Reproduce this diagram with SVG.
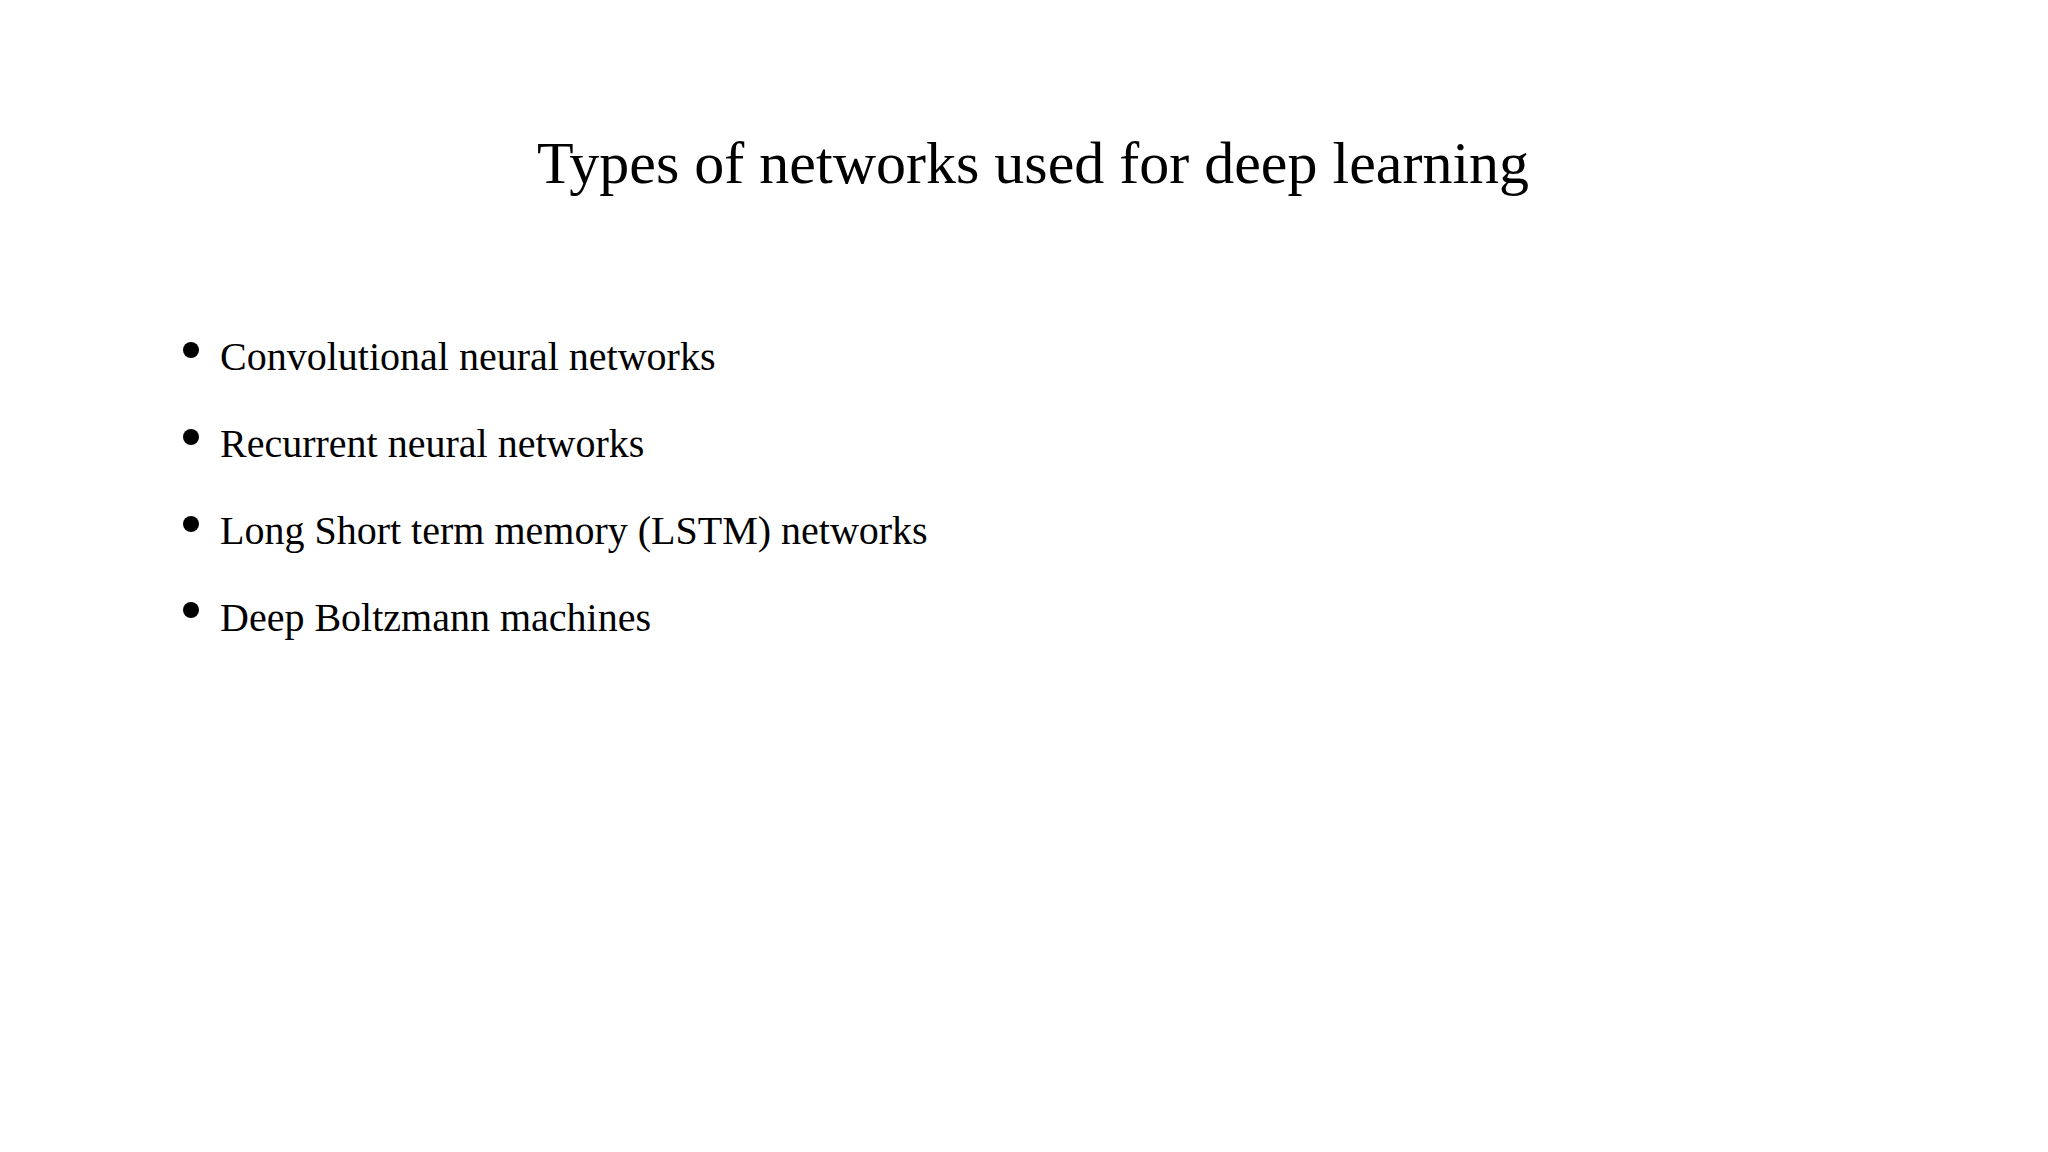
<svg xmlns="http://www.w3.org/2000/svg" width="2048" height="1152" viewBox="0 0 2048 1152">
<style>
.t{font-family:"Liberation Serif",serif;fill:#000}
.b{font-size:40px}
</style>
<rect width="2048" height="1152" fill="#fff"/>
<g id="title"><text class="t" x="1033" y="183" font-size="60" text-anchor="middle">Types of networks used for deep learning</text></g>
<g id="item1"><circle cx="191" cy="350" r="8"/><text class="t b" x="220" y="370">Convolutional neural networks</text></g>
<g id="item2"><circle cx="191" cy="437" r="8"/><text class="t b" x="220" y="457">Recurrent neural networks</text></g>
<g id="item3"><circle cx="191" cy="524" r="8"/><text class="t b" x="220" y="544">Long Short term memory (LSTM) networks</text></g>
<g id="item4"><circle cx="191" cy="610" r="8"/><text class="t b" x="220" y="631">Deep Boltzmann machines</text></g>
</svg>
